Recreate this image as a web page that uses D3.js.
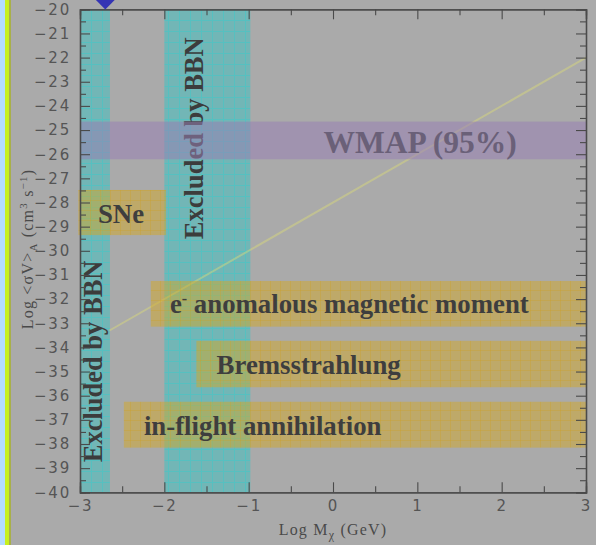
<!DOCTYPE html>
<html><head><meta charset="utf-8">
<script src="https://cdn.jsdelivr.net/npm/d3@7"></script>
<style>
html,body{margin:0;padding:0;background:#aaaaaa;}
svg{display:block;}
</style></head>
<body>
<svg id="chart" width="596" height="545"></svg>
<script>
// ---- data ----
const xDomain = [-3, 3];
const yDomain = [-20, -40];
const xMajorTicks = [-3, -2, -1, 0, 1, 2, 3];
const xMinorTicks = [-2.5, -1.5, -0.5, 0.5, 1.5, 2.5];
const yMajorTicks = d3.range(-20, -40.5, -1);
const yMinorTicks = d3.range(-20.5, -40, -1);
const bbnStrips = [ {x0: -3, x1: -2.645}, {x0: -2, x1: -0.98} ];
const wmapBand = [ {x0: -3, x1: 3, y0: -24.65, y1: -26.21} ];
const boxes = [
  {name: "SNe", x0: -3.02, x1: -1.98, y0: -27.48, y1: -29.35},
  {name: "anomalous", x0: -2.16, x1: 3, y0: -31.25, y1: -33.14},
  {name: "brems", x0: -1.62, x1: 3, y0: -33.73, y1: -35.65},
  {name: "inflight", x0: -2.48, x1: 3, y0: -36.25, y1: -38.15}
];
const lineX = [-2.65, 3];
const lineY = [-33.3, -22.0];
const markerPoint = [{x: -2.7, y: -19.59}];
const boxLabels = [
  {text: "SNe", x: -2.514, y: -28.86, anchor: "middle"},
  {text: "e", sup: "-", rest: " anomalous magnetic moment", x: -1.934, y: -32.59, anchor: "start"},
  {text: "Bremsstrahlung", x: -1.38, y: -35.11, anchor: "start"},
  {text: "in-flight annihilation", x: -2.242, y: -37.63, anchor: "start"}
];
const wmapLabel = [{text: "WMAP (95%)", x: 1.034, y: -25.96}];
const bbnLabels = [
  {text: "Excluded by BBN", x: -2.743, y: -34.58},
  {text: "Excluded by BBN", x: -1.54, y: -25.34}
];

// ---- drawing ----
const svg = d3.select("#chart");
const x = d3.scaleLinear().domain(xDomain).range([80, 586]);
const y = d3.scaleLinear().domain(yDomain).range([9.3, 492.3]);

svg.append("rect").attr("width", 596).attr("height", 545).attr("fill", "#aaaaaa");
svg.append("rect").attr("x", 0).attr("y", 0).attr("width", 5).attr("height", 545).attr("fill", "#b4dcff");
svg.append("rect").attr("x", 5).attr("y", 0).attr("width", 4).attr("height", 545).attr("fill", "#c8f020");
svg.append("rect").attr("x", 9).attr("y", 0).attr("width", 2).attr("height", 545).attr("fill", "#a8b048");

const defs = svg.append("defs");
const tp = defs.append("pattern").attr("id", "tealPat").attr("patternUnits", "userSpaceOnUse")
  .attr("width", 11).attr("height", 11).attr("x", 80).attr("y", 9);
tp.append("rect").attr("width", 11).attr("height", 11).attr("fill", "#72b6b6");
tp.append("path").attr("d", "M0.5,0V11M0,0.5H11").attr("stroke", "#56c0c0").attr("stroke-width", 1);
const yp = defs.append("pattern").attr("id", "yelPat").attr("patternUnits", "userSpaceOnUse")
  .attr("width", 10).attr("height", 10);
yp.append("rect").attr("width", 10).attr("height", 10).attr("fill", "rgba(210,168,40,0.5)");
yp.append("path").attr("d", "M0.5,0V10M0,0.5H10").attr("stroke", "rgba(210,160,30,0.3)").attr("stroke-width", 1);

svg.append("g").selectAll("rect").data(bbnStrips).join("rect")
  .attr("x", d => x(d.x0)).attr("width", d => x(d.x1) - x(d.x0))
  .attr("y", y(yDomain[0])).attr("height", y(yDomain[1]) - y(yDomain[0]))
  .attr("fill", "url(#tealPat)");

svg.append("g").selectAll("text").data(bbnLabels).join("text")
  .attr("transform", d => `translate(${x(d.x)},${y(d.y)}) rotate(-90)`)
  .attr("text-anchor", "middle")
  .attr("font-family", "'Liberation Serif', 'Times New Roman', serif")
  .attr("font-weight", "bold").attr("font-size", 26.5).attr("fill", "#3c3c3c")
  .text(d => d.text);

svg.append("line")
  .attr("x1", x(lineX[0])).attr("y1", y(lineY[0]))
  .attr("x2", x(lineX[1])).attr("y2", y(lineY[1]))
  .attr("stroke", "rgba(220,220,120,0.45)").attr("stroke-width", 2);

svg.append("g").selectAll("rect").data(wmapBand).join("rect")
  .attr("x", d => x(d.x0)).attr("width", d => x(d.x1) - x(d.x0))
  .attr("y", d => y(d.y0)).attr("height", d => y(d.y1) - y(d.y0))
  .attr("fill", "rgba(152,128,178,0.55)");

svg.append("g").selectAll("rect").data(boxes).join("rect")
  .attr("x", d => x(d.x0)).attr("width", d => x(d.x1) - x(d.x0))
  .attr("y", d => y(d.y0)).attr("height", d => y(d.y1) - y(d.y0))
  .attr("fill", "url(#yelPat)");

svg.append("g").selectAll("text").data(wmapLabel).join("text")
  .attr("x", d => x(d.x)).attr("y", d => y(d.y))
  .attr("text-anchor", "middle")
  .attr("font-family", "'Liberation Serif', 'Times New Roman', serif")
  .attr("font-weight", "bold").attr("font-size", 31.5).attr("fill", "#6a6078")
  .text(d => d.text);

const bl = svg.append("g").selectAll("text").data(boxLabels).join("text")
  .attr("x", d => x(d.x)).attr("y", d => y(d.y))
  .attr("text-anchor", d => d.anchor)
  .attr("font-family", "'Liberation Serif', 'Times New Roman', serif")
  .attr("font-weight", "bold").attr("font-size", 26.8).attr("fill", "#3e3e3e");
bl.each(function(d) {
  const t = d3.select(this);
  t.append("tspan").text(d.text);
  if (d.sup) {
    t.append("tspan").attr("dy", -9).attr("font-size", 16).text(d.sup);
    t.append("tspan").attr("dy", 9).text(d.rest);
  }
});

const axisColor = "#4a4a4a";
function styleAxis(g) {
  g.select(".domain").attr("stroke", axisColor).attr("stroke-width", 1.3);
  g.selectAll(".tick line").attr("stroke", axisColor).attr("stroke-width", 1.1);
  g.selectAll(".tick text").attr("fill", "#555555")
    .attr("font-family", "'DejaVu Sans', sans-serif").attr("font-size", 15)
    .attr("letter-spacing", 1.8);
}
const fmt = d => d < 0 ? "\u2212" + Math.abs(d) : String(d);
svg.append("g").attr("transform", `translate(${x(-3)},0)`)
  .call(d3.axisLeft(y).tickValues(yMajorTicks).tickSize(-10).tickPadding(9).tickFormat(fmt))
  .call(styleAxis);
svg.append("g").attr("transform", `translate(${x(-3)},0)`)
  .call(d3.axisLeft(y).tickValues(yMinorTicks).tickSize(-6).tickFormat(""))
  .call(styleAxis);
svg.append("g").attr("transform", `translate(${x(3)},0)`)
  .call(d3.axisRight(y).tickValues(yMajorTicks).tickSize(-10).tickFormat(""))
  .call(styleAxis);
svg.append("g").attr("transform", `translate(${x(3)},0)`)
  .call(d3.axisRight(y).tickValues(yMinorTicks).tickSize(-6).tickFormat(""))
  .call(styleAxis);
svg.append("g").attr("transform", `translate(0,${y(-40)})`)
  .call(d3.axisBottom(x).tickValues(xMajorTicks).tickSize(-10).tickPadding(8).tickFormat(fmt))
  .call(styleAxis);
svg.append("g").attr("transform", `translate(0,${y(-40)})`)
  .call(d3.axisBottom(x).tickValues(xMinorTicks).tickSize(-6).tickFormat(""))
  .call(styleAxis);
svg.append("g").attr("transform", `translate(0,${y(-20)})`)
  .call(d3.axisTop(x).tickValues(xMajorTicks).tickSize(-10).tickFormat(""))
  .call(styleAxis);
svg.append("g").attr("transform", `translate(0,${y(-20)})`)
  .call(d3.axisTop(x).tickValues(xMinorTicks).tickSize(-6).tickFormat(""))
  .call(styleAxis);

svg.append("g").selectAll("path").data(markerPoint).join("path")
  .attr("transform", d => `translate(${x(d.x)},${y(d.y)}) rotate(45)`)
  .attr("d", d3.symbol().type(d3.symbolSquare).size(200))
  .attr("fill", "#3434b4");

const titleFont = "'Liberation Serif', 'Times New Roman', serif";
const xt = svg.append("text").attr("x", 333).attr("y", 535).attr("text-anchor", "middle")
  .attr("font-family", titleFont).attr("font-size", 16).attr("letter-spacing", 1.2).attr("fill", "#4a4a4a");
xt.append("tspan").text("Log M");
xt.append("tspan").attr("dy", 4).attr("font-size", 12).text("\u03c7");
xt.append("tspan").attr("dy", -4).text(" (GeV)");

const yt = svg.append("text").attr("transform", "translate(33,249) rotate(-90)").attr("text-anchor", "middle")
  .attr("font-family", titleFont).attr("font-size", 16).attr("letter-spacing", 1.2).attr("fill", "#4a4a4a");
yt.append("tspan").text("Log <\u03c3V>");
yt.append("tspan").attr("dy", 4).attr("font-size", 11).text("A");
yt.append("tspan").attr("dy", -4).text(" (cm");
yt.append("tspan").attr("dy", -6).attr("font-size", 11).text("3");
yt.append("tspan").attr("dy", 6).text(" s");
yt.append("tspan").attr("dy", -6).attr("font-size", 11).text("\u22121");
yt.append("tspan").attr("dy", 6).text(")");
</script>
</body></html>
